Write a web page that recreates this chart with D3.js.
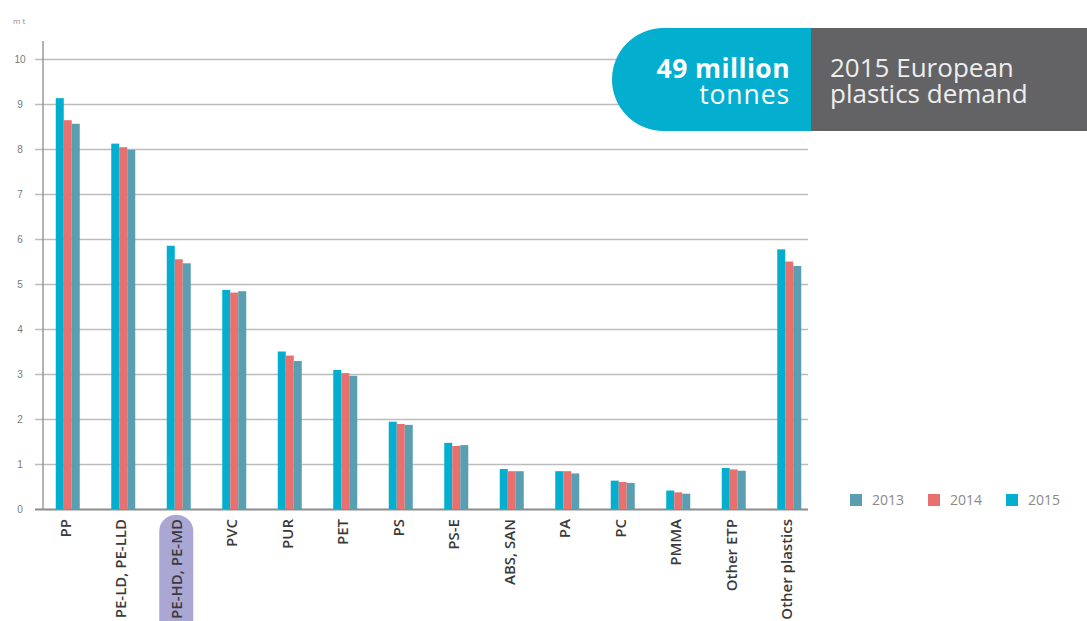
<!DOCTYPE html>
<html>
<head>
<meta charset="utf-8">
<script src="https://cdn.jsdelivr.net/npm/d3@7"></script>
<style>
  body { margin: 0; background: #fff; }
  svg { display: block; font-family: "Open Sans", sans-serif; }
</style>
</head>
<body>
<div id="chart"></div>
<script>
// Données (millions de tonnes)
const categories = ["PP", "PE-LD, PE-LLD", "PE-HD, PE-MD", "PVC", "PUR", "PET", "PS", "PS-E",
  "ABS, SAN", "PA", "PC", "PMMA", "Other ETP", "Other plastics"];
const years = ["2015", "2014", "2013"];
const values2015 = [9.13, 8.12, 5.85, 4.87, 3.50, 3.09, 1.94, 1.47, 0.89, 0.84, 0.63, 0.41, 0.91, 5.77];
const values2014 = [8.64, 8.04, 5.55, 4.81, 3.41, 3.02, 1.89, 1.40, 0.84, 0.84, 0.60, 0.37, 0.88, 5.50];
const values2013 = [8.56, 7.98, 5.46, 4.84, 3.29, 2.96, 1.87, 1.42, 0.84, 0.79, 0.58, 0.34, 0.85, 5.40];
const yTicks = [0, 1, 2, 3, 4, 5, 6, 7, 8, 9, 10];
const legendYears = ["2013", "2014", "2015"];

const series = {"2015": values2015, "2014": values2014, "2013": values2013};
const color = d3.scaleOrdinal(["2013", "2014", "2015"], ["#5a9fb1", "#e8716f", "#03aecf"]);

const width = 1087;
const height = 621;

const svg = d3.select("#chart")
  .append("svg")
  .attr("width", width)
  .attr("height", height);

// Echelles
const x = d3.scaleBand().domain(categories).range([40, 817]);
const xYear = d3.scaleBand().domain(years).range([0, 24]);
const y = d3.scaleLinear().domain([0, 10]).range([509, 59]);

const gridRight = 808;
const axisX = 43;

// Grille + graduations
const yAxis = svg.append("g")
  .attr("transform", `translate(${gridRight},0)`)
  .call(d3.axisLeft(y).tickValues(yTicks).tickSize(gridRight - 35).tickFormat(d3.format("d")));
yAxis.select(".domain").remove();
yAxis.selectAll(".tick line")
  .attr("stroke", d => d === 0 ? "#8c8c8c" : "#bcbcbc")
  .attr("stroke-width", d => d === 0 ? 2.2 : 1.3);
yAxis.selectAll(".tick text")
  .attr("x", 20 - gridRight)
  .attr("text-anchor", "middle")
  .attr("fill", "#7a7a7a")
  .attr("font-size", 10);

// Axe vertical
svg.append("line")
  .attr("x1", axisX).attr("x2", axisX)
  .attr("y1", 41).attr("y2", y(0))
  .attr("stroke", "#8c8c8c")
  .attr("stroke-width", 1.3);

svg.append("text")
  .attr("x", 13).attr("y", 24)
  .attr("fill", "#8a8a8a")
  .attr("font-size", 8)
  .text("m t");

// Barres
const groups = svg.append("g")
  .selectAll("g")
  .data(categories)
  .join("g")
  .attr("transform", d => `translate(${x(d) + x.bandwidth() / 2 - 12},0)`);

groups.selectAll("rect")
  .data((c, i) => years.map(yr => ({year: yr, value: series[yr][i]})))
  .join("rect")
  .attr("x", d => xYear(d.year))
  .attr("width", xYear.bandwidth())
  .attr("y", d => y(d.value))
  .attr("height", d => y(0) - y(d.value))
  .attr("fill", d => color(d.year));

// Badge pour PE-HD
const hl = "PE-HD, PE-MD";
svg.append("rect")
  .attr("x", x(hl) + x.bandwidth() / 2 - 19.5)
  .attr("y", 515)
  .attr("width", 34)
  .attr("height", 130)
  .attr("rx", 16)
  .attr("fill", "#aaa7d5");

// Libellés des catégories
svg.append("g")
  .selectAll("text")
  .data(categories)
  .join("text")
  .attr("transform", d => `translate(${x(d) + x.bandwidth() / 2 - 2.5},519) rotate(-90)`)
  .attr("text-anchor", "end")
  .attr("dy", "0.36em")
  .attr("font-size", 15)
  .attr("font-weight", 600)
  .attr("fill", "#3a3a3a")
  .text(d => d);

// Légende
const legend = svg.append("g")
  .selectAll("g")
  .data(legendYears)
  .join("g")
  .attr("transform", (d, i) => `translate(${850 + i * 78},494)`);
legend.append("rect")
  .attr("width", 12).attr("height", 12)
  .attr("fill", d => color(d));
legend.append("text")
  .attr("x", 22).attr("y", 11)
  .attr("font-size", 14)
  .attr("fill", "#8a8a8a")
  .text(d => d);

// Bandeau
const bannerTop = 28, bh = 103, split = 811;
svg.append("rect")
  .attr("x", split).attr("y", bannerTop)
  .attr("width", width - split).attr("height", bh)
  .attr("fill", "#636365");
svg.append("path")
  .attr("d", `M${split},${bannerTop} H${612 + bh / 2} A${bh / 2},${bh / 2} 0 0 0 ${612 + bh / 2},${bannerTop + bh} H${split} Z`)
  .attr("fill", "#03aecf");

const leftLines = [{t: "49 million", w: 700, y: 78, ls: 0.4}, {t: "tonnes", w: 400, y: 104, ls: 0.9}];
svg.append("g")
  .selectAll("text")
  .data(leftLines)
  .join("text")
  .attr("x", 790).attr("y", d => d.y)
  .attr("text-anchor", "end")
  .attr("fill", "#fff")
  .attr("font-size", 26.5)
  .attr("letter-spacing", d => d.ls)
  .attr("font-weight", d => d.w)
  .text(d => d.t);

const rightLines = [{t: "2015 European", y: 77}, {t: "plastics demand", y: 103}];
svg.append("g")
  .selectAll("text")
  .data(rightLines)
  .join("text")
  .attr("x", 830).attr("y", d => d.y)
  .attr("fill", "#eeeeee")
  .attr("font-size", 26)
  .text(d => d.t);
</script>
</body>
</html>
